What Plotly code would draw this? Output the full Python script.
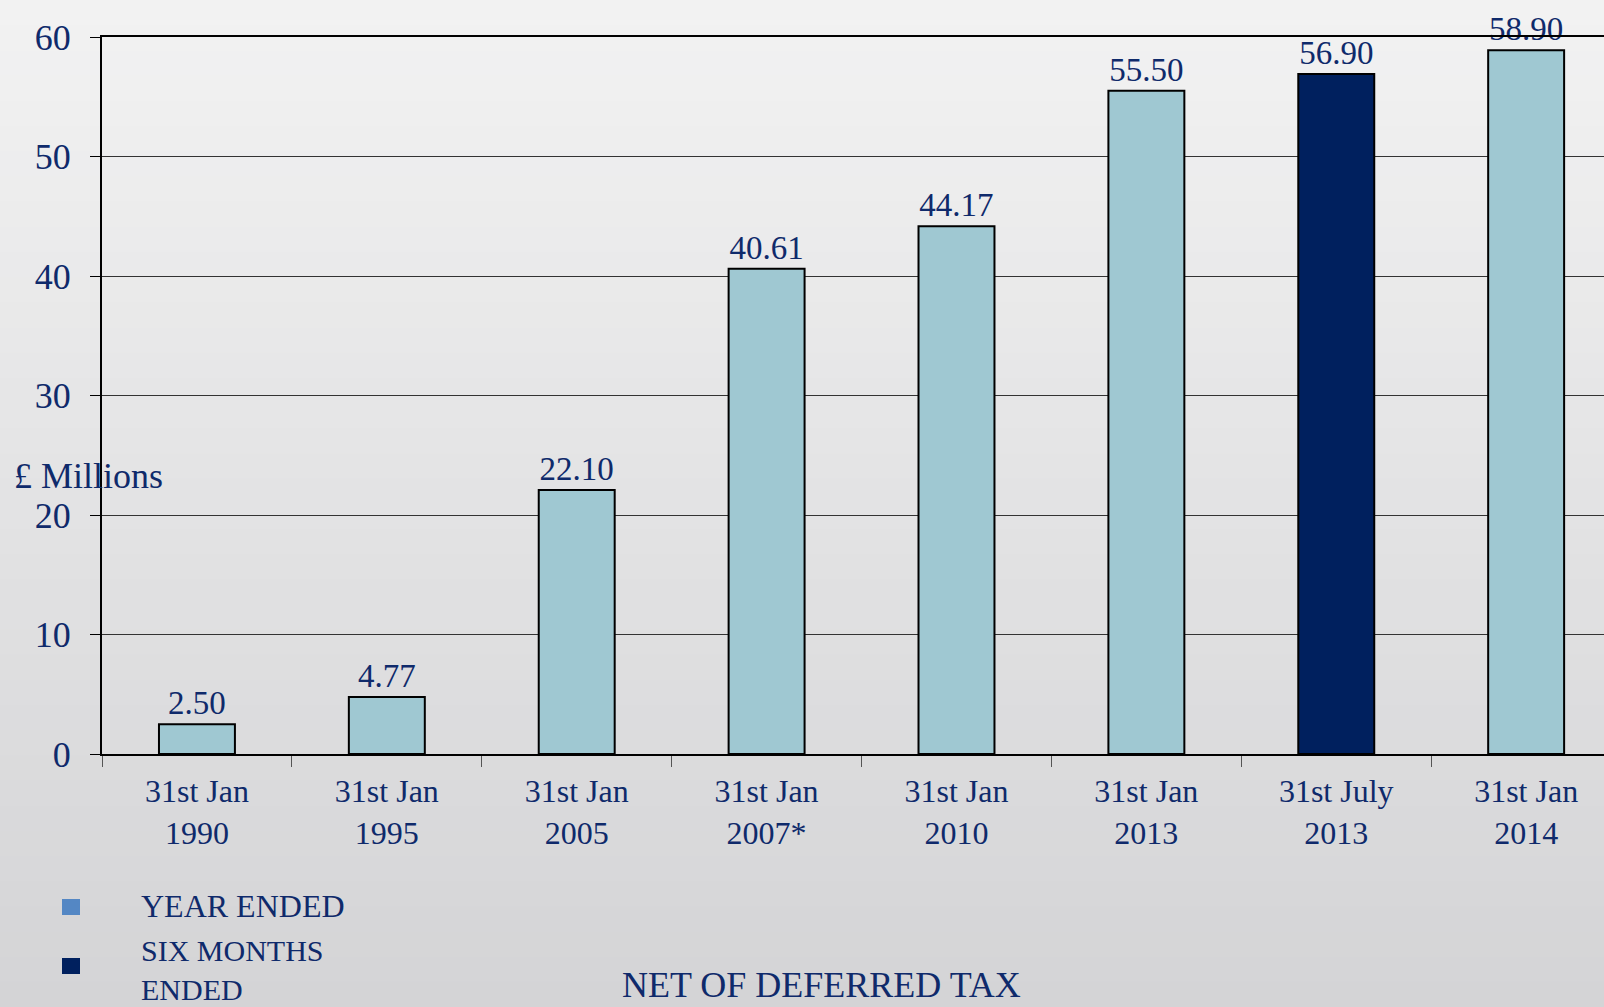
import plotly.graph_objects as go

# ---- data ----
categories = ["31st Jan<br>1990", "31st Jan<br>1995", "31st Jan<br>2005", "31st Jan<br>2007*",
              "31st Jan<br>2010", "31st Jan<br>2013", "31st July<br>2013", "31st Jan<br>2014"]
values = [2.50, 4.77, 22.10, 40.61, 44.17, 55.50, 56.90, 58.90]
period = ["YEAR ENDED", "YEAR ENDED", "YEAR ENDED", "YEAR ENDED",
          "YEAR ENDED", "YEAR ENDED", "SIX MONTHS ENDED", "YEAR ENDED"]
y_ticks = [0, 10, 20, 30, 40, 50, 60]

W, H = 1604, 1007
L, T, B, R = 102, 37, 253, 0
PW, PH = W - L - R, H - T - B

def px(x):
    return (x - L) / PW

def py(y):
    return (H - B - y) / PH

FONT = "Liberation Serif"
NAVY = "#0f2a6b"
LIGHT = "#9fc8d2"
DARK = "#00205e"
LEG_LIGHT = "#5487c4"

bar_colors = [DARK if p.startswith("SIX") else LIGHT for p in period]

fig = go.Figure()
fig.add_trace(go.Bar(
    x=categories, y=values,
    marker=dict(color=bar_colors, line=dict(color="#000000", width=2)),
    width=0.4,
    text=[f"{v:.2f}" for v in values],
    textposition="outside",
    textfont=dict(family=FONT, size=33, color=NAVY),
    cliponaxis=False,
    showlegend=False,
))

shapes = []
# background gradient (paper texture)
n = 40
top_c = (242, 242, 242)
bot_c = (212, 212, 214)
for i in range(n):
    y0 = i * H / n
    y1 = (i + 1) * H / n + 1
    f = i / (n - 1)
    c = tuple(int(round(top_c[k] + (bot_c[k] - top_c[k]) * f)) for k in range(3))
    shapes.append(dict(type="rect", xref="paper", yref="paper",
                       x0=px(0), x1=px(W), y0=py(y1), y1=py(y0),
                       fillcolor="rgb(%d,%d,%d)" % c, line=dict(width=0), layer="below"))
# legend squares
shapes.append(dict(type="rect", xref="paper", yref="paper", x0=px(62), x1=px(80), y0=py(915), y1=py(899),
                   fillcolor=LEG_LIGHT, line=dict(width=0)))
shapes.append(dict(type="rect", xref="paper", yref="paper", x0=px(62), x1=px(80), y0=py(974), y1=py(958),
                   fillcolor=DARK, line=dict(width=0)))

annotations = [
    dict(text="£ Millions", xref="paper", yref="paper", x=px(12), y=py(476),
         xanchor="left", yanchor="middle", showarrow=False,
         font=dict(family=FONT, size=36, color=NAVY)),
    dict(text="YEAR ENDED", xref="paper", yref="paper", x=px(139), y=py(906),
         xanchor="left", yanchor="middle", showarrow=False,
         font=dict(family=FONT, size=32, color=NAVY)),
    dict(text="SIX MONTHS<br>ENDED", xref="paper", yref="paper", x=px(139), y=py(970),
         xanchor="left", yanchor="middle", align="left", showarrow=False,
         font=dict(family=FONT, size=30, color=NAVY)),
    dict(text="NET OF DEFERRED TAX", xref="paper", yref="paper", x=px(821), y=py(985),
         xanchor="center", yanchor="middle", showarrow=False,
         font=dict(family=FONT, size=36, color=NAVY)),
]

fig.update_layout(
    width=W, height=H,
    margin=dict(l=L, r=R, t=T, b=B, pad=0),
    paper_bgcolor="#e6e6e6",
    plot_bgcolor="rgba(0,0,0,0)",
    shapes=shapes,
    annotations=annotations,
    bargap=0.6,
    xaxis=dict(
        type="category",
        range=[-0.5, 7.41],
        showline=True, linecolor="#000000", linewidth=2, mirror=True,
        ticks="outside", ticklen=11, tickcolor="#555555", tickwidth=1,
        tickson="boundaries",
        showgrid=False,
        tickfont=dict(family=FONT, size=32, color=NAVY),
        ticklabelstandoff=8,
    ),
    yaxis=dict(
        range=[0, 60],
        tickvals=y_ticks,
        showline=True, linecolor="#000000", linewidth=2,
        ticks="outside", ticklen=10, tickcolor="#000000", tickwidth=1,
        showgrid=True, gridcolor="#333333", gridwidth=1,
        zeroline=False,
        tickfont=dict(family=FONT, size=36, color=NAVY),
        ticklabelstandoff=12,
    ),
)

fig.write_html("out.html")
